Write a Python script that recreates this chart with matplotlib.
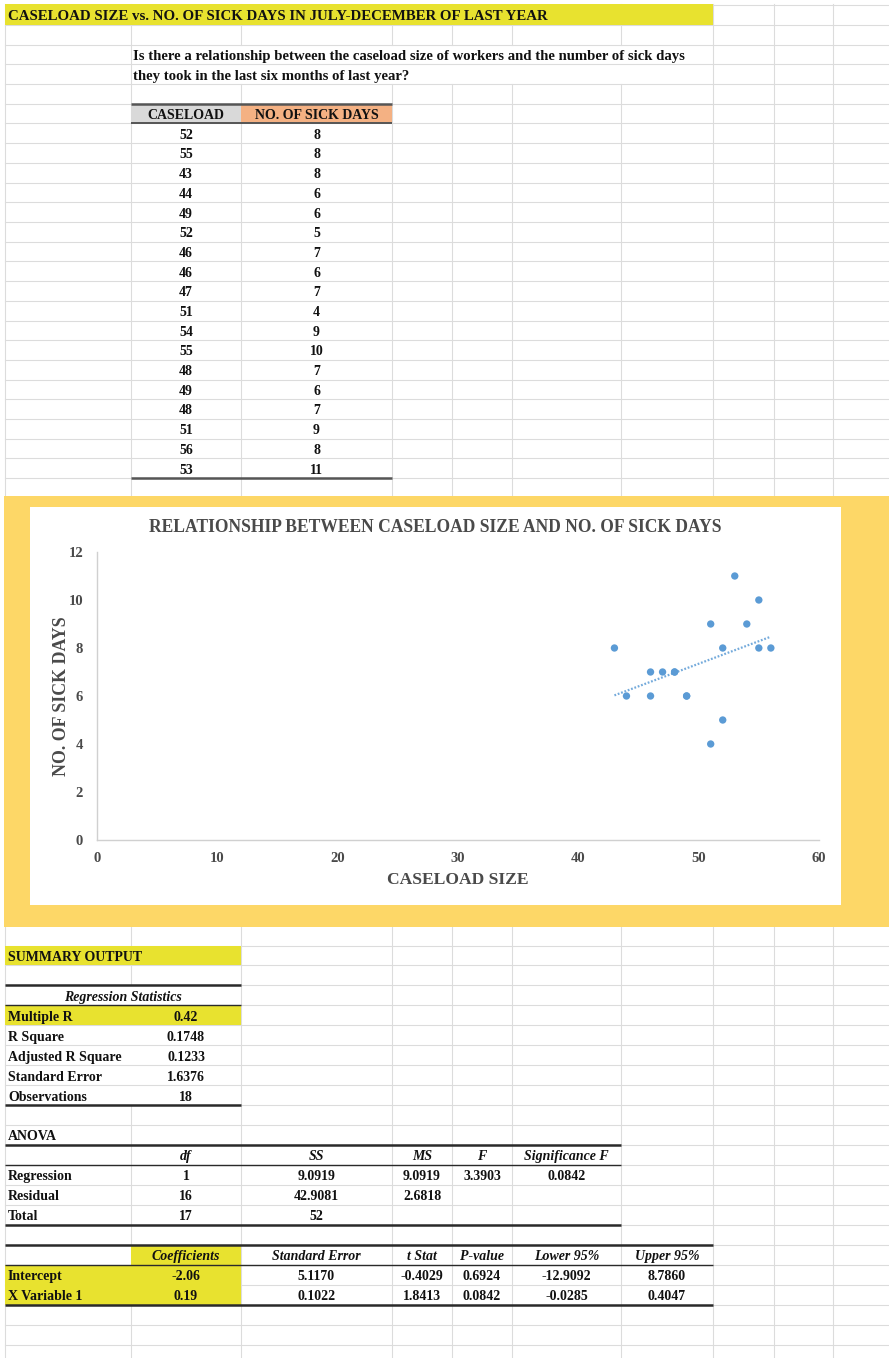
import numpy as np
import matplotlib
matplotlib.use("Agg")
import matplotlib.pyplot as plt
from matplotlib.patches import Rectangle

# ---------------------------------------------------------------- data
caseload = [52, 55, 43, 44, 49, 52, 46, 46, 47, 51, 54, 55, 48, 49, 48, 51, 56, 53]
sick_days = [8, 8, 8, 6, 6, 5, 7, 6, 7, 4, 9, 10, 7, 6, 7, 9, 8, 11]

reg_stat_labels = ["Multiple R", "R Square", "Adjusted R Square", "Standard Error", "Observations"]
reg_stat_values = ["0.42", "0.1748", "0.1233", "1.6376", "18"]

anova_header = ["df", "SS", "MS", "F", "Significance F"]
anova_rows = ["Regression", "Residual", "Total"]
anova_df = ["1", "16", "17"]
anova_ss = ["9.0919", "42.9081", "52"]
anova_ms = ["9.0919", "2.6818", ""]
anova_f = ["3.3903", "", ""]
anova_sig = ["0.0842", "", ""]

coef_header = ["Coefficients", "Standard Error", "t Stat", "P-value", "Lower 95%", "Upper 95%"]
coef_rows = ["Intercept", "X Variable 1"]
coef_value = ["-2.06", "0.19"]
coef_se = ["5.1170", "0.1022"]
coef_t = ["-0.4029", "1.8413"]
coef_p = ["0.6924", "0.0842"]
coef_lo = ["-12.9092", "-0.0285"]
coef_hi = ["8.7860", "0.4047"]

x_ticks = [0, 10, 20, 30, 40, 50, 60]
y_ticks = [0, 2, 4, 6, 8, 10, 12]

title_text = "CASELOAD SIZE vs. NO. OF SICK DAYS IN JULY-DECEMBER OF LAST YEAR"
question_1 = "Is there a relationship between the caseload size of workers and the number of sick days"
question_2 = "they took in the last six months of last year?"
chart_title = "RELATIONSHIP BETWEEN CASELOAD SIZE AND NO. OF SICK DAYS"

# ---------------------------------------------------------------- styling
W, H = 889, 1358
SERIF = "Liberation Serif"
GRID = "#dcdcdc"
YELLOW = "#e8e22f"
GOLD = "#fdd767"
BLUE = "#5b9bd5"
INK = "#111111"
CHART_INK = "#4a4a4a"
CELL_FS = 10

fig = plt.figure(figsize=(W / 100, H / 100), dpi=100)
fig.patch.set_facecolor("white")
sheet = fig.add_axes([0, 0, 1, 1])
sheet.set_xlim(0, W)
sheet.set_ylim(H, 0)
sheet.axis("off")
renderer = fig.canvas.get_renderer()

col_x = [5, 131, 241, 392, 452, 512, 621, 713, 774, 833]
col_center = [(col_x[i] + col_x[i + 1]) / 2 for i in range(len(col_x) - 1)]


def top_row(k):
    return 5.3 + 19.7 * k


def low_row(j):
    return 945.5 + 19.95 * j


# ---------------------------------------------------------------- gridlines
for k in range(0, 26):
    y = top_row(k)
    sheet.plot([5, W], [y, y], color=GRID, lw=0.8, zorder=1)
for j in range(0, 21):
    y = low_row(j)
    sheet.plot([5, W], [y, y], color=GRID, lw=0.8, zorder=1)


def vline(x, y0, y1):
    sheet.plot([x, x], [y0, y1], color=GRID, lw=0.8, zorder=1)


for x in col_x:
    gaps = []
    if 131 < x < 713:
        gaps.append((top_row(2), top_row(4)))        # overflowing question text
    if x == 131:
        gaps.append((low_row(2), low_row(8)))        # regression statistics block
    y = 4
    for g0, g1 in sorted(gaps):
        vline(x, y, g0)
        y = g1
    vline(x, y, H)

# ---------------------------------------------------------------- fills
def fill(x0, x1, y0, y1, color, z=2):
    sheet.add_patch(Rectangle((x0, y0), x1 - x0, y1 - y0, facecolor=color,
                              edgecolor="none", zorder=z))


fill(5, 713, 4, top_row(1), YELLOW)
fill(131, 241, top_row(5), top_row(6), "#d9d9d9")
fill(241, 392, top_row(5), top_row(6), "#f4b183")
fill(4, W, 496, 927, GOLD)
fill(29.5, 841, 507, 905, "white", z=2.5)
fill(5, 241, low_row(0), low_row(1), YELLOW)
fill(5, 241, low_row(3), low_row(4), YELLOW)
fill(131, 241, low_row(15), low_row(18), YELLOW)
fill(5, 131, low_row(16), low_row(18), YELLOW)

# ---------------------------------------------------------------- borders
def border(x0, x1, y, lw, color="#2a2a2a"):
    sheet.plot([x0, x1], [y, y], color=color, lw=lw, zorder=3,
               solid_capstyle="butt")


border(131, 392, top_row(5), 1.8, "#555555")
border(131, 392, top_row(6), 1.4, "#555555")
border(131, 392, top_row(24), 1.8, "#555555")
border(5, 241, low_row(2), 1.8)
border(5, 241, low_row(3), 1.0)
border(5, 241, low_row(8), 1.8)
border(5, 621, low_row(10), 1.8)
border(5, 621, low_row(11), 1.0)
border(5, 621, low_row(14), 1.8)
border(5, 713, low_row(15), 1.8)
border(5, 713, low_row(16), 1.0)
border(5, 713, low_row(18), 1.8)

# ---------------------------------------------------------------- text
def cell(x, row_bottom, s, ha="center", style="normal", size=CELL_FS):
    return sheet.text(x, row_bottom - 4.5, s, ha=ha, va="baseline",
                      family=SERIF, weight="bold", style=style,
                      fontsize=size, color=INK, zorder=4)


def fit(t, width):
    w = t.get_window_extent(renderer).width
    t.set_fontsize(t.get_fontsize() * width / w)
    return t


fit(cell(8, top_row(1), title_text, ha="left"), 537)
q1 = fit(cell(133, top_row(3), question_1, ha="left"), 554)
cell(133, top_row(4), question_2, ha="left", size=q1.get_fontsize())

cell(col_center[1], top_row(6), "CASELOAD")
cell(col_center[2], top_row(6), "NO. OF SICK DAYS")
for i, (c, d) in enumerate(zip(caseload, sick_days)):
    cell(col_center[1], top_row(7 + i), str(c))
    cell(col_center[2], top_row(7 + i), str(d))

cell(8, low_row(1), "SUMMARY OUTPUT", ha="left")
cell(123, low_row(3), "Regression Statistics", style="italic")
for i, (lab, val) in enumerate(zip(reg_stat_labels, reg_stat_values)):
    cell(8, low_row(4 + i), lab, ha="left")
    cell(col_center[1], low_row(4 + i), val)

cell(8, low_row(10), "ANOVA", ha="left")
for i, h in enumerate(anova_header):
    cell(col_center[1 + i], low_row(11), h, style="italic")
for i, lab in enumerate(anova_rows):
    cell(8, low_row(12 + i), lab, ha="left")
    for c, vals in enumerate([anova_df, anova_ss, anova_ms, anova_f, anova_sig]):
        if vals[i]:
            cell(col_center[1 + c], low_row(12 + i), vals[i])

for i, h in enumerate(coef_header):
    cell(col_center[1 + i], low_row(16), h, style="italic")
for i, lab in enumerate(coef_rows):
    cell(8, low_row(17 + i), lab, ha="left")
    for c, vals in enumerate([coef_value, coef_se, coef_t, coef_p, coef_lo, coef_hi]):
        cell(col_center[1 + c], low_row(17 + i), vals[i])

# ---------------------------------------------------------------- scatter chart
ct = sheet.text(435, 528, chart_title, ha="center", va="center", family=SERIF,
                weight="bold", fontsize=12, color=CHART_INK, zorder=4)
fit(ct, 574)

px0, px1, py0, py1 = 97, 819, 552, 840
ax = fig.add_axes([px0 / W, 1 - py1 / H, (px1 - px0) / W, (py1 - py0) / H])
ax.set_facecolor("none")
ax.set_xlim(0, 60)
ax.set_ylim(0, 12)
ax.set_xticks(x_ticks)
ax.set_yticks(y_ticks)
for side in ("top", "right"):
    ax.spines[side].set_visible(False)
for side in ("left", "bottom"):
    ax.spines[side].set_color("#d0d0d0")
    ax.spines[side].set_linewidth(1.0)
ax.tick_params(length=0, labelsize=10.5, labelcolor=CHART_INK)
ax.tick_params(axis="y", pad=10)
ax.tick_params(axis="x", pad=9)
for lab in ax.get_xticklabels() + ax.get_yticklabels():
    lab.set_family(SERIF)
    lab.set_weight("bold")

ax.scatter(caseload, sick_days, s=28, color=BLUE, edgecolors="none",
           zorder=3, clip_on=False)
slope, intercept = np.polyfit(caseload, sick_days, 1)
xs = np.array([min(caseload), max(caseload)])
ax.plot(xs, intercept + slope * xs, color=BLUE, lw=1.6,
        linestyle=(0, (0.8, 0.8)), alpha=0.85, zorder=2)

xl = sheet.text(458, 880, "CASELOAD SIZE", ha="center", va="center", family=SERIF,
                weight="bold", fontsize=12, color=CHART_INK, zorder=4)
fit(xl, 141)
yl = sheet.text(61, 696, "NO. OF SICK DAYS", ha="center", va="center", family=SERIF,
                weight="bold", fontsize=12, color=CHART_INK, rotation=90, zorder=4)
w = yl.get_window_extent(renderer).height
yl.set_fontsize(12 * 160 / w)

fig.savefig("out.png", dpi=100, facecolor="white")
